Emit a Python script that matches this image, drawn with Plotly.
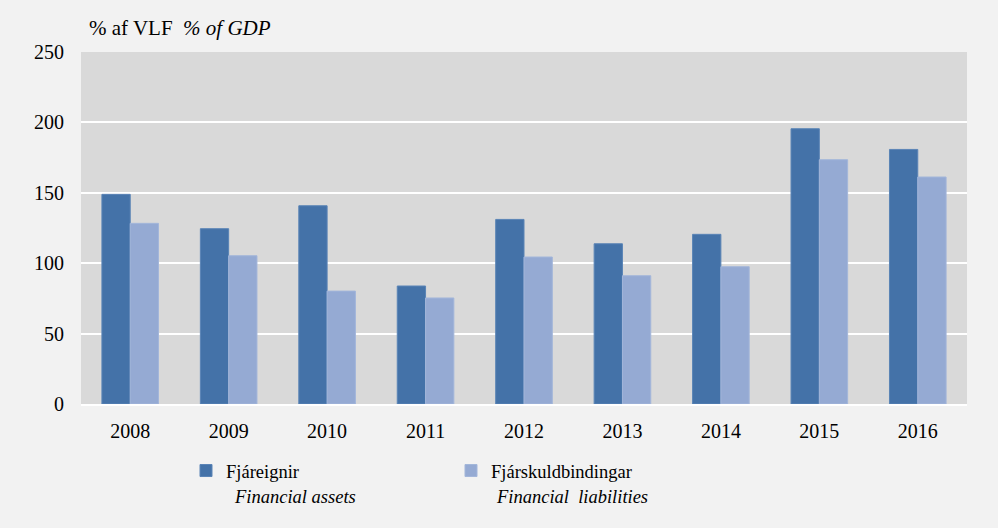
import plotly.graph_objects as go

years = ["2008", "2009", "2010", "2011", "2012", "2013", "2014", "2015", "2016"]
assets = [148.9, 124.5, 140.8, 83.8, 131.1, 113.8, 120.5, 195.5, 180.8]
liabilities = [128.3, 105.3, 80.2, 75.3, 104.4, 91.1, 97.5, 173.5, 161.2]
y_ticks = [0, 50, 100, 150, 200, 250]

FONT = "Liberation Serif"
FS = 20
LFS = 18.5
NB = "\u00a0"

L, R, T, B = 81, 31, 52, 124
PW = 998 - L - R
PH = 528 - T - B

def px_x(x):
    return (x - L) / PW

def px_y(y):
    return (528 - B - y) / PH

fig = go.Figure()
fig.add_trace(go.Bar(
    x=years, y=assets,
    name="Fjáreignir",
    marker=dict(color="#4472A8", line=dict(color="#5A84B6", width=1)),
))
fig.add_trace(go.Bar(
    x=years, y=liabilities,
    name="Fjárskuldbindingar",
    marker=dict(color="#95AAD3", line=dict(color="#A3B6DA", width=1)),
))

fig.update_layout(
    width=998, height=528,
    margin=dict(l=L, r=R, t=T, b=B),
    paper_bgcolor="#F2F2F2",
    plot_bgcolor="#D9D9D9",
    barmode="group",
    bargap=0.425,
    bargroupgap=0,
    font=dict(family=FONT, size=FS, color="#000000"),
    showlegend=True,
    legend=dict(
        orientation="h",
        x=px_x(186), xanchor="left",
        y=px_y(452), yanchor="top",
        entrywidth=220, entrywidthmode="pixels",
        itemwidth=30,
        font=dict(family=FONT, size=LFS, color="#000000"),
        bgcolor="rgba(0,0,0,0)",
        traceorder="normal",
    ),
    xaxis=dict(
        showgrid=False, ticks="", showline=True, linecolor="#FFFFFF", linewidth=2,
        tickfont=dict(family=FONT, size=FS), fixedrange=True, ticklabelstandoff=8,
    ),
    yaxis=dict(
        range=[0, 250], tickvals=y_ticks, showgrid=True, gridcolor="#FFFFFF", gridwidth=2,
        zeroline=False, ticks="", ticklabelstandoff=16,
        tickfont=dict(family=FONT, size=FS), fixedrange=True,
    ),
    annotations=[
        dict(text="% af VLF" + NB * 2 + "<i>% of GDP</i>",
             xref="paper", yref="paper", x=px_x(87), y=px_y(28),
             xanchor="left", yanchor="middle", showarrow=False,
             font=dict(family=FONT, size=21, color="#000000")),
        dict(text="<i>Financial assets</i>",
             xref="paper", yref="paper", x=px_x(232), y=px_y(497),
             xanchor="left", yanchor="middle", showarrow=False,
             font=dict(family=FONT, size=LFS, color="#000000")),
        dict(text="<i>Financial" + NB * 2 + "liabilities</i>",
             xref="paper", yref="paper", x=px_x(494), y=px_y(497),
             xanchor="left", yanchor="middle", showarrow=False,
             font=dict(family=FONT, size=LFS, color="#000000")),
    ],
)

fig.write_html("out.html", config={"displayModeBar": False},
               post_script="document.body.style.margin='0';document.body.style.overflow='hidden';")
